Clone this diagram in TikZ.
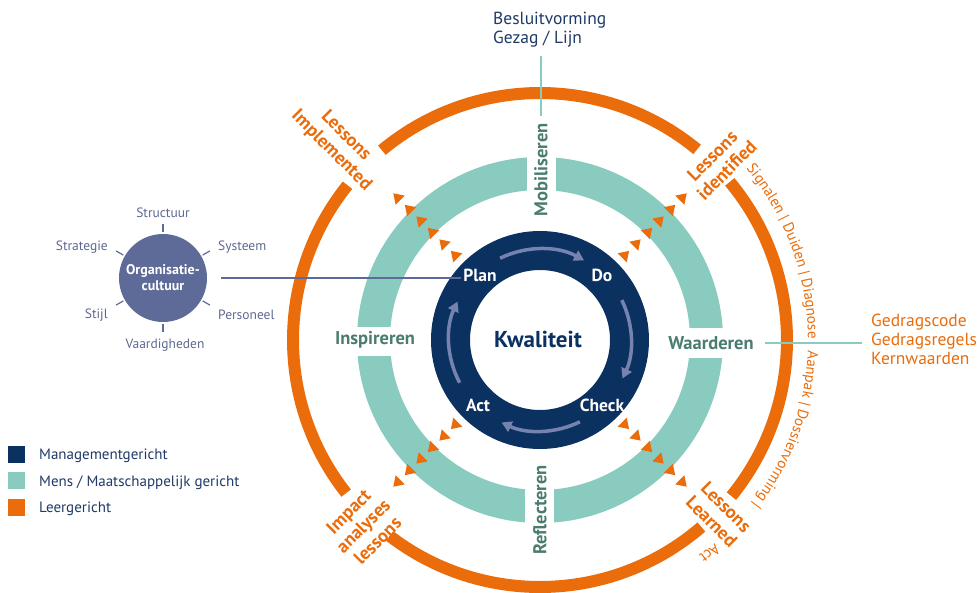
\documentclass[tikz,border=0pt]{standalone}
\usepackage{fontspec}
\setmainfont{PT Sans}
\usetikzlibrary{arrows.meta,decorations.text}
\definecolor{navy}{HTML}{0A3160}
\definecolor{tealc}{HTML}{89CBBF}
\definecolor{orng}{HTML}{EA6C0B}
\definecolor{midtxt}{HTML}{4B7C70}
\definecolor{slate}{HTML}{5E6B98}
\definecolor{arrc}{HTML}{7683AF}
\definecolor{navytxt}{HTML}{1E3A66}
\definecolor{slatetxt}{HTML}{5D6891}
\newcommand\fsz[2]{\fontsize{#1}{#2}\selectfont}
\tikzset{
  orangearc/.style={draw=orng, line width=12pt},
  connline/.style={draw=tealc, line width=2.5pt},
  midlabel/.style={text=midtxt, font=\fsz{18.5}{20}\bfseries, inner sep=1pt},
  pdca/.style={text=white, font=\fsz{17.5}{19}\bfseries, inner sep=2pt},
  lessonlbl/.style={text=orng, font=\fsz{18.5}{20.5}\bfseries, align=center, inner sep=0pt},
  orgitem/.style={text=slatetxt, font=\fsz{13.5}{15}, inner sep=0pt},
  toptxt/.style={text=navytxt, font=\fsz{17.5}{19}, anchor=base west, inner sep=0pt},
  gedrag/.style={text=orng, font=\fsz{17.5}{19}, anchor=base west, inner sep=0pt},
  legendtxt/.style={text=navytxt, font=\fsz{15}{17}, anchor=base west, inner sep=0pt},
  legendbox/.style={minimum size=17pt, inner sep=0pt},
  cyclearrow/.style={draw=arrc, line width=3.5pt, -{Triangle[length=10pt,width=11pt]}},
  tri/.style={fill=orng}
}
\begin{document}
\begin{tikzpicture}[x=1pt,y=1pt]
\path[use as bounding box] (-540,-252) rectangle (437,340);

% outer orange ring (four arcs)
\draw[orangearc] (129.8:247) arc[start angle=129.8, end angle=50.5, radius=247pt];
\draw[orangearc] (218.3:247) arc[start angle=218.3, end angle=141.2, radius=247pt];
\draw[orangearc] (310.8:247) arc[start angle=310.8, end angle=232.5, radius=247pt];
\draw[orangearc] (39.8:247) arc[start angle=39.8, end angle=-39.2, radius=247pt];

% teal ring with four gaps
\fill[tealc, even odd rule] (0,0) circle[radius=183pt] (0,0) circle[radius=150pt];
\fill[white] (-13,140) rectangle (16,190);
\fill[white] (-15,-140) rectangle (14,-190);
\fill[white] (-190,13) rectangle (-140,-16);
\fill[white] (140,12) rectangle (190,-18);

% navy ring
\fill[navy, even odd rule] (0,0) circle[radius=109pt] (0,0) circle[radius=70pt];

% cycle arrows
\draw[cyclearrow] (116:91) arc[start angle=116, end angle=61, radius=91pt];
\draw[cyclearrow] (26:91) arc[start angle=26, end angle=-25, radius=91pt];
\draw[cyclearrow] (-64:91) arc[start angle=-64, end angle=-115, radius=91pt];
\draw[cyclearrow] (208:91) arc[start angle=208, end angle=155, radius=91pt];

% orange triangle chains
\foreach \a in {45,135,225,315}{
  \foreach \r in {121,137.3,153.6,169.9,186.2,202.5}{
    \begin{scope}[shift={(\a:\r)}, rotate=\a]
      \fill[tri] (5,0) -- (-4.7,6.4) -- (-4.7,-6.4) -- cycle;
    \end{scope}
  }
}

% connector lines
\coordinate (tl1) at (1,284);
\coordinate (tl2) at (1,224);
\draw[connline] (tl1) -- (tl2);
\coordinate (rl1) at (225,-3);
\coordinate (rl2) at (322,-3);
\draw[connline] (rl1) -- (rl2);

% center labels
\node[text=navy, font=\fsz{23}{25}\bfseries] (kw) at (-2,1) {Kwaliteit};
\node[pdca] (plan) at (-60,65) {Plan};
\node[pdca] (do) at (62,65) {Do};
\node[pdca] (act) at (-62,-65) {Act};
\node[pdca] (check) at (62,-65) {Check};

% teal ring labels
\node[midlabel, rotate=90] (mob) at (1,170) {Mobiliseren};
\node[midlabel, rotate=90] (refl) at (0,-170) {Reflecteren};
\node[midlabel] (insp) at (-165,0) {Inspireren};
\node[midlabel] (waar) at (171,-3) {Waarderen};

% orange lesson labels
\node[lessonlbl, rotate=-45] (limpl) at (-201.5,196.5) {Lessons\\Implemented};
\node[lessonlbl, rotate=45] (lident) at (179.5,177) {Lessons\\identified};
\node[lessonlbl, rotate=45] (impact) at (-177,-186) {Impact\\analyses\\lessons};
\node[lessonlbl, rotate=-45] (llearn) at (179,-174.5) {Lessons\\Learned};

% curved texts
\path[decorate, decoration={text along path, text format delimiters={[}{]},
  text={[\fsz{15}{16}\color{orng}]Signalen | Duiden | Diagnose}, text align=center}]
  (45:268) arc[start angle=45, end angle=-5, radius=268pt];
\path[decorate, decoration={text along path, text format delimiters={[}{]},
  text={[\fsz{15}{16}\color{orng}]Aanpak | Dossiervorming |}, text align=center}]
  (5:268) arc[start angle=5, end angle=-45, radius=268pt];
\path[decorate, decoration={text along path, text format delimiters={[}{]},
  text={[\fsz{15}{16}\color{orng}]Act}, text align=center}]
  (-41.5:268) arc[start angle=-41.5, end angle=-61.5, radius=268pt];

% top and right texts
\node[toptxt] (bes) at (-47,315) {Besluitvorming};
\node[toptxt] (gez) at (-47,296.5) {Gezag / Lijn};
\node[gedrag] (gc) at (331,14) {Gedragscode};
\node[gedrag] (gr) at (331,-5) {Gedragsregels};
\node[gedrag] (kwd) at (331,-24) {Kernwaarden};

% organisatiecultuur
\node[circle, fill=slate, minimum size=88pt, inner sep=0pt, text=white,
  font=\fsz{14}{16}\bfseries, align=center] (org) at (-377,62) {Organisatie-\\cultuur};
\foreach \a in {90,30,-30,-90,150,210}{
  \draw[slate, line width=1.2pt] ([shift={(\a:1.5pt)}]org.\a) -- ([shift={(\a:10pt)}]org.\a);
}
\node[orgitem] (structuur) at (-377,127) {Structuur};
\node[orgitem, anchor=west] (systeem) at (-322,93) {Systeem};
\node[orgitem, anchor=east] (strategie) at (-432,93) {Strategie};
\node[orgitem, anchor=west] (personeel) at (-322,25) {Personeel};
\node[orgitem, anchor=east] (stijl) at (-432,25) {Stijl};
\node[orgitem] (vaard) at (-375,-5) {Vaardigheden};
\draw[slate, line width=1.5pt] ([xshift=14pt]org.east) -- (org.east -| plan.west);

% legend
\node[legendbox, fill=navy] (lg1) at (-523.5,-114.5) {};
\node[legendbox, fill=tealc] (lg2) at (-523.5,-140.5) {};
\node[legendbox, fill=orng] (lg3) at (-523.5,-167) {};
\node[legendtxt] (lt1) at (-501,-119) {Managementgericht};
\node[legendtxt] (lt2) at (-501,-146) {Mens / Maatschappelijk gericht};
\node[legendtxt] (lt3) at (-501,-172) {Leergericht};
\end{tikzpicture}
\end{document}
